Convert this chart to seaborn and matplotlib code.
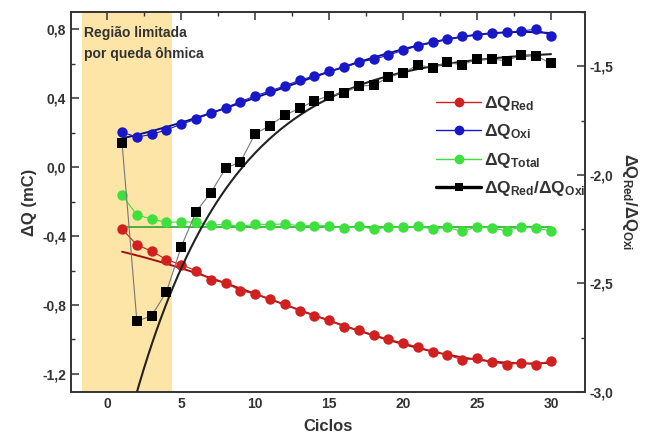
import numpy as np
import pandas as pd
import matplotlib
matplotlib.use("Agg")
import matplotlib.pyplot as plt
from matplotlib.lines import Line2D
from matplotlib.ticker import MultipleLocator, FuncFormatter
import seaborn as sns

# Charge per cycle (mC) and charge ratio
ciclos = list(range(1, 31))
dq_red = [-0.359, -0.452, -0.487, -0.537, -0.566, -0.601, -0.653, -0.672, -0.717, -0.736,
          -0.765, -0.796, -0.833, -0.862, -0.885, -0.926, -0.945, -0.974, -0.997, -1.022,
          -1.042, -1.071, -1.088, -1.119, -1.109, -1.129, -1.146, -1.136, -1.146, -1.123]
dq_oxi = [0.203, 0.174, 0.190, 0.216, 0.249, 0.278, 0.313, 0.345, 0.380, 0.413,
          0.442, 0.471, 0.504, 0.529, 0.555, 0.578, 0.607, 0.626, 0.649, 0.678,
          0.703, 0.723, 0.742, 0.758, 0.769, 0.777, 0.781, 0.790, 0.800, 0.761]
dq_total = [-0.162, -0.278, -0.301, -0.321, -0.317, -0.321, -0.336, -0.332, -0.344, -0.331,
            -0.333, -0.330, -0.340, -0.340, -0.340, -0.355, -0.344, -0.359, -0.350, -0.350,
            -0.344, -0.359, -0.350, -0.373, -0.346, -0.355, -0.369, -0.346, -0.355, -0.369]
razao = [-1.855, -2.673, -2.649, -2.538, -2.331, -2.170, -2.082, -1.970, -1.940, -1.811,
         -1.773, -1.725, -1.694, -1.659, -1.636, -1.622, -1.591, -1.588, -1.551, -1.530,
         -1.494, -1.507, -1.482, -1.494, -1.467, -1.467, -1.475, -1.448, -1.452, -1.487]

# Saturating-exponential model for the ratio: A - B*exp(-n/tau)
razao_fit = {"A": -1.42, "B": 2.13, "tau": 6.7}

regiao_ohmica = (-1.7, 4.4)
x_ticks = [0, 5, 10, 15, 20, 25, 30]
y_left_ticks = [-1.2, -0.8, -0.4, 0.0, 0.4, 0.8]
y_right_ticks = [-3.0, -2.5, -2.0, -1.5]

sns.set_theme(style="white")
plt.rcParams["font.family"] = ["Liberation Sans", "DejaVu Sans"]
plt.rcParams["font.weight"] = "bold"
plt.rcParams["mathtext.default"] = "regular"

df = pd.DataFrame({"ciclo": ciclos, "red": dq_red, "oxi": dq_oxi,
                   "total": dq_total, "razao": razao})

c_red, c_red_fit = "#d02020", "#a01010"
c_oxi, c_oxi_fit = "#1818c8", "#10107a"
c_tot, c_tot_fit = "#3ee03e", "#2aa82a"

fig = plt.figure(figsize=(6.46, 4.43), dpi=100)
ax = fig.add_axes([0.110, 0.115, 0.7956, 0.858])
ax2 = ax.twinx()

ax.axvspan(*regiao_ohmica, color="#fde5a8", zorder=0, lw=0)

x = np.array(ciclos, dtype=float)
xf = np.linspace(1, 30, 200)

# fitted trends
p_oxi = np.polyfit(x, dq_oxi, 3)
mask = x >= 6
p_red = np.polyfit(x[mask], np.array(dq_red)[mask], 3)
tot_mean = np.mean(np.array(dq_total)[x >= 4])

sns.lineplot(x=xf, y=np.polyval(p_red, xf), ax=ax, color=c_red_fit, lw=1.4, zorder=4)
sns.lineplot(x=xf, y=np.polyval(p_oxi, xf), ax=ax, color=c_oxi_fit, lw=1.4, zorder=4)
sns.lineplot(x=[1, 30], y=[tot_mean, tot_mean], ax=ax, color=c_tot_fit, lw=1.2, zorder=4)

for col, c in [("red", c_red), ("oxi", c_oxi), ("total", c_tot)]:
    sns.lineplot(data=df, x="ciclo", y=col, ax=ax, color=c, lw=0.8,
                 marker="o", markersize=7.5, markeredgewidth=0, zorder=5)

fit_y = razao_fit["A"] - razao_fit["B"] * np.exp(-xf / razao_fit["tau"])
sns.lineplot(x=xf, y=fit_y, ax=ax2, color="#222222", lw=1.5, zorder=4)
sns.lineplot(data=df, x="ciclo", y="razao", ax=ax2, color="#777777", lw=0.8,
             marker="s", markersize=7, markerfacecolor="black",
             markeredgewidth=0, zorder=5)

ax.set_xlim(-2.45, 32.3)
ax.set_ylim(-1.305, 0.9)
ax2.set_ylim(-3.0, -1.25)

ax.set_xticks(x_ticks)
ax.xaxis.set_minor_locator(MultipleLocator(2.5))
ax.set_yticks(y_left_ticks)
ax.yaxis.set_minor_locator(MultipleLocator(0.2))
ax2.set_yticks(y_right_ticks)
ax2.yaxis.set_minor_locator(MultipleLocator(0.25))

comma = FuncFormatter(lambda v, p: f"{v:.1f}".replace(".", ",").replace("-0,0", "0,0"))
ax.yaxis.set_major_formatter(comma)
ax2.yaxis.set_major_formatter(comma)

for a in (ax, ax2):
    for s in a.spines.values():
        s.set_color("#333333")
        s.set_linewidth(1.2)
ax.tick_params(axis="both", which="both", direction="in", top=True, right=False,
               labelsize=10, colors="#333333", labelcolor="#333333")
ax.tick_params(which="major", length=6, width=1.1)
ax.tick_params(which="minor", length=3, width=1.0)
ax2.tick_params(axis="y", which="both", direction="in", labelsize=10,
                colors="#333333", labelcolor="#333333")
ax2.tick_params(which="major", length=6, width=1.1)
ax2.tick_params(which="minor", length=3, width=1.0)
for lab in ax.get_xticklabels() + ax.get_yticklabels() + ax2.get_yticklabels():
    lab.set_fontweight("bold")

ax.set_xlabel("Ciclos", fontsize=12, fontweight="bold", color="#333333", labelpad=6)
ax.set_ylabel("ΔQ (mC)", fontsize=12, fontweight="bold", color="#333333", labelpad=4)
ax2.set_ylabel("ΔQ$_{Red}$/ΔQ$_{Oxi}$", fontsize=12, fontweight="bold",
               color="#333333", rotation=270, labelpad=18)

ax.text(-1.6, 0.717, "Região limitada\npor queda ôhmica", fontsize=10, fontweight="bold",
        color="#333333", va="center", ha="left", linespacing=1.65, zorder=6)

handles = [
    Line2D([], [], color=c_red, lw=1, marker="o", markersize=7, markeredgewidth=0),
    Line2D([], [], color=c_oxi, lw=1, marker="o", markersize=7, markeredgewidth=0),
    Line2D([], [], color=c_tot, lw=1, marker="o", markersize=7, markeredgewidth=0),
    Line2D([], [], color="black", lw=2.4, marker="s", markersize=6, markeredgewidth=0),
]
labels = ["ΔQ$_{Red}$", "ΔQ$_{Oxi}$", "ΔQ$_{Total}$", "ΔQ$_{Red}$/ΔQ$_{Oxi}$"]
for a in (ax, ax2):
    if a.get_legend() is not None:
        a.get_legend().remove()
leg = ax2.legend(handles, labels, loc="upper left", bbox_to_anchor=(0.68, 0.826),
                 frameon=False, prop={"size": 12.5, "weight": "bold"},
                 handlelength=2.6, labelspacing=0.55, handletextpad=0.15)
for t in leg.get_texts():
    t.set_color("#333333")

fig.savefig("out.png", dpi=100)
